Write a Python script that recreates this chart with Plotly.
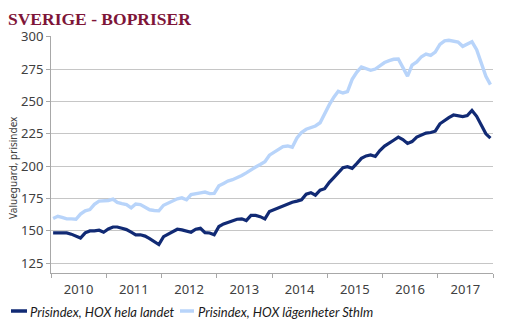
import pandas as pd
import plotly.graph_objects as go

# Monthly observations, Jan 2010 - Dec 2017
months = (pd.date_range("2010-01-01", periods=96, freq="MS") + pd.Timedelta(days=14)).strftime("%Y-%m-%d").tolist()

hox_hela_landet = [
    148.5, 148.5, 148.0, 148.5, 147.5, 146.0, 144.5, 148.5, 150.0, 150.0, 150.5, 149.0,
    151.5, 153.0, 153.0, 152.0, 151.0, 149.0, 147.0, 147.0, 146.0, 144.0, 142.0, 139.5,
    145.6, 147.4, 149.0, 151.3, 150.8, 149.7, 149.0, 151.3, 152.0, 148.7, 148.4, 147.0,
    153.4, 155.4, 156.7, 158.0, 159.0, 159.3, 158.0, 162.0, 162.0, 161.0, 159.3, 165.0,
    166.5, 167.8, 169.4, 171.2, 172.2, 173.0, 174.0, 178.4, 179.5, 177.6, 181.5, 182.6,
    187.5, 191.3, 195.0, 198.8, 199.6, 198.3, 202.0, 206.0, 207.9, 208.6, 207.5, 212.0,
    215.5, 217.5, 220.0, 222.4, 220.5, 217.5, 219.0, 222.4, 224.0, 225.5, 226.0, 227.0,
    232.7, 235.5, 237.5, 239.5, 239.2, 238.3, 239.0, 243.0, 238.5, 231.5, 225.0, 221.6,
]

hox_lgh_sthlm = [
    159.6, 161.3, 160.5, 159.3, 159.3, 159.0, 163.0, 165.5, 166.5, 170.5, 173.0, 173.0,
    173.5, 174.5, 172.0, 171.0, 170.3, 167.8, 170.8, 170.3, 168.0, 166.3, 165.8, 165.5,
    169.8, 171.6, 173.3, 174.8, 175.5, 174.0, 178.0, 178.9, 179.4, 180.0, 178.8, 179.0,
    184.8, 186.7, 188.5, 189.5, 190.8, 192.8, 194.8, 197.4, 199.3, 201.3, 203.5, 208.5,
    211.0, 213.0, 215.1, 215.6, 214.6, 221.8, 226.0, 228.5, 230.0, 231.0, 233.5, 240.5,
    247.5, 253.5, 257.8, 256.5, 257.5, 267.0, 272.5, 276.6, 275.5, 274.0, 275.0, 277.5,
    280.0, 281.5, 282.5, 282.7, 276.0, 269.5, 278.0, 280.5, 284.5, 286.5, 285.5, 288.0,
    294.0, 296.8, 297.2, 296.5, 295.9, 292.5, 294.5, 296.0, 290.0, 279.6, 269.3, 263.0,
]

y_ticks = [125, 150, 175, 200, 225, 250, 275, 300]
series_names = ["Prisindex, HOX hela landet", "Prisindex, HOX lägenheter Sthlm"]
title_text = "SVERIGE - BOPRISER"
y_title = "Valueguard, prisindex"

DARK = "#112a74"
LIGHT = "#b8d4fa"
GRID = "#c6c6c6"
AXIS = "#a8a8a8"
TICKFONT = dict(family="Noto Sans", size=13, color="#404040")

fig = go.Figure()
fig.add_trace(go.Scatter(x=months, y=hox_lgh_sthlm, mode="lines", name=series_names[1],
                         line=dict(color=LIGHT, width=3.4), showlegend=False))
fig.add_trace(go.Scatter(x=months, y=hox_hela_landet, mode="lines", name=series_names[0],
                         line=dict(color=DARK, width=3.2), showlegend=False))

fig.update_layout(
    width=514, height=333,
    margin=dict(l=51, r=21, t=36, b=60),
    paper_bgcolor="white", plot_bgcolor="white",
    title=dict(text=f"<b>{title_text}</b>", x=8 / 514, xanchor="left", xref="container",
               y=1 - 18.5 / 333, yanchor="middle", yref="container",
               font=dict(family="Liberation Serif", size=17.5, color="#7e1538")),
    xaxis=dict(type="date", range=["2010-01-01", "2018-01-01"], tick0="2010-01-01",
               dtick="M12", tickformat="%Y", ticklabelmode="period",
               ticks="outside", ticklen=4, tickcolor=AXIS, showline=True, linecolor=AXIS,
               linewidth=1, showgrid=False, tickfont=TICKFONT, fixedrange=True),
    yaxis=dict(range=[117.5, 300.5], tickvals=y_ticks, ticks="outside", ticklen=4,
               tickcolor=AXIS, showline=True, linecolor=AXIS, linewidth=1,
               showgrid=True, gridcolor=GRID, gridwidth=1, zeroline=False,
               tickfont=TICKFONT),
    showlegend=False,
)

# y-axis title
fig.add_annotation(text=y_title, xref="paper", yref="paper", x=(13 - 51) / 442,
                   y=(273 - 168) / 237, textangle=-90, showarrow=False,
                   xanchor="center", yanchor="middle",
                   font=dict(family="Noto Sans", size=10, color="#404040"))

# custom legend
def px_x(p):
    return (p - 51) / 442

def px_y(p):
    return (273 - p) / 237

legend_items = [
    (series_names[0], DARK, 11, 27, 28),
    (series_names[1], LIGHT, 180, 194, 196),
]
for name, col, x0, x1, xt in legend_items:
    fig.add_shape(type="line", xref="paper", yref="paper", x0=px_x(x0), x1=px_x(x1),
                  y0=px_y(311), y1=px_y(311), line=dict(color=col, width=3.5))
    fig.add_annotation(text=f"<i>{name}</i>", xref="paper", yref="paper", x=px_x(xt),
                       y=px_y(311.5), xanchor="left", yanchor="middle", showarrow=False,
                       font=dict(family="Lato", size=13, color="#1a1a1a"))

fig.write_html("out.html")
